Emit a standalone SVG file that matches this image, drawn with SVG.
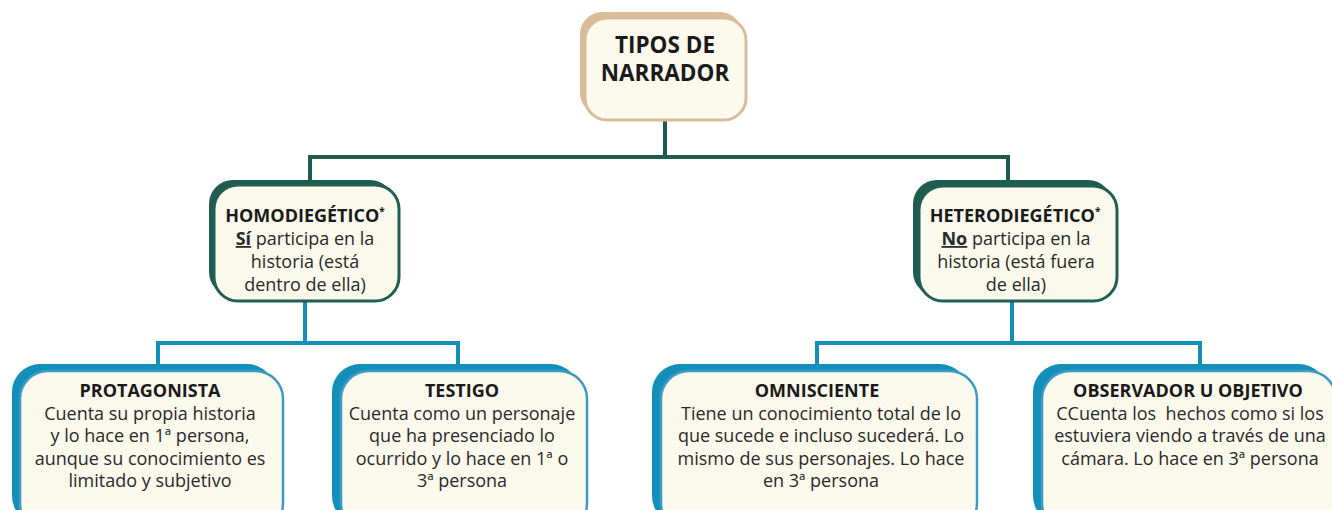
<svg xmlns="http://www.w3.org/2000/svg" width="1332" height="510" viewBox="0 0 1332 510">
<style>
.bg{fill:#ffffff}
.tanb{fill:#d9bd99}
.tanf{fill:#fbfaec;stroke:#d9bd99;stroke-width:3}
.grnb{fill:#1e5c4f}
.grnf{fill:#fbf9ec;stroke:#225f52;stroke-width:3}
.blub{fill:#138fba}
.bluf{fill:#fbf9ec;stroke:#3b9bc5;stroke-width:2.5}
.cg{fill:none;stroke:#1e5c4f;stroke-width:4}
.cb{fill:none;stroke:#138fba;stroke-width:4}
text{font-family:"Open Sans","Liberation Sans",sans-serif;fill:#1a1a1a;text-anchor:middle}
.title{font-size:22.5px;font-weight:bold}
.h{font-size:18px;font-weight:bold}
.t{font-size:18px;fill:#2a2a2a}
.u{font-weight:bold;text-decoration:underline}
.sup{font-size:10px}
</style>
<rect class="bg" width="1332" height="510"/>
<g id="connectors">
<path class="cg" d="M665 118 V157 M310 157 H1008 M310 155 V183 M1008 155 V183"/>
<path class="cb" d="M305 300 V343 M158 343 H458 M158 341 V367 M458 341 V367"/>
<path class="cb" d="M1012 300 V343 M817 343 H1200 M817 341 V367 M1200 341 V367"/>
</g>
<g id="tipos">
<rect class="tanb" x="580" y="12" width="162" height="103" rx="22"/>
<rect class="tanf" x="585" y="18" width="161" height="102" rx="22"/>
<text class="title" x="665" y="53">TIPOS DE</text>
<text class="title" x="665" y="81">NARRADOR</text>
</g>
<g id="homodiegetico">
<rect class="grnb" x="209" y="180" width="185" height="116" rx="24"/>
<rect class="grnf" x="214" y="185" width="185" height="116" rx="24"/>
<text class="h" x="305" y="222">HOMODIEGÉTICO<tspan class="sup" dy="-7">*</tspan></text>
<text class="t" x="305" y="245"><tspan class="u">Sí</tspan> participa en la</text>
<text class="t" x="305" y="268">historia (está</text>
<text class="t" x="305" y="291">dentro de ella)</text>
</g>
<g id="heterodiegetico">
<rect class="grnb" x="913" y="180" width="199" height="116" rx="24"/>
<rect class="grnf" x="919" y="186" width="198" height="115" rx="24"/>
<text class="h" x="1015" y="222">HETERODIEGÉTICO<tspan class="sup" dy="-7">*</tspan></text>
<text class="t" x="1016" y="245"><tspan class="u">No</tspan> participa en la</text>
<text class="t" x="1016" y="268">historia (está fuera</text>
<text class="t" x="1016" y="291">de ella)</text>
</g>
<g id="protagonista">
<rect class="blub" x="12" y="364" width="263" height="160" rx="28"/>
<rect class="bluf" x="20" y="371" width="263" height="160" rx="28"/>
<text class="h" x="150" y="397">PROTAGONISTA</text>
<text class="t" x="150" y="420">Cuenta su propia historia</text>
<text class="t" x="150" y="442">y lo hace en 1ª persona,</text>
<text class="t" x="150" y="465">aunque su conocimiento es</text>
<text class="t" x="150" y="487">limitado y subjetivo</text>
</g>
<g id="testigo">
<rect class="blub" x="332" y="364" width="247" height="160" rx="28"/>
<rect class="bluf" x="341" y="371" width="246" height="160" rx="28"/>
<text class="h" x="462" y="397">TESTIGO</text>
<text class="t" x="462" y="420">Cuenta como un personaje</text>
<text class="t" x="462" y="442">que ha presenciado lo</text>
<text class="t" x="462" y="465">ocurrido y lo hace en 1ª o</text>
<text class="t" x="462" y="487">3ª persona</text>
</g>
<g id="omnisciente">
<rect class="blub" x="652" y="364" width="316" height="160" rx="28"/>
<rect class="bluf" x="661" y="371" width="316" height="160" rx="28"/>
<text class="h" x="817" y="397">OMNISCIENTE</text>
<text class="t" x="821" y="420">Tiene un conocimiento total de lo</text>
<text class="t" x="821" y="442">que sucede e incluso sucederá. Lo</text>
<text class="t" x="821" y="465">mismo de sus personajes. Lo hace</text>
<text class="t" x="821" y="487">en 3ª persona</text>
</g>
<g id="observador">
<rect class="blub" x="1033" y="364" width="294" height="160" rx="28"/>
<rect class="bluf" x="1042" y="371" width="294" height="160" rx="28"/>
<text class="h" x="1188" y="397">OBSERVADOR U OBJETIVO</text>
<text class="t" x="1190" y="420" xml:space="preserve">CCuenta los  hechos como si los</text>
<text class="t" x="1190" y="442">estuviera viendo a través de una</text>
<text class="t" x="1190" y="465">cámara. Lo hace en 3ª persona</text>
</g>
</svg>
